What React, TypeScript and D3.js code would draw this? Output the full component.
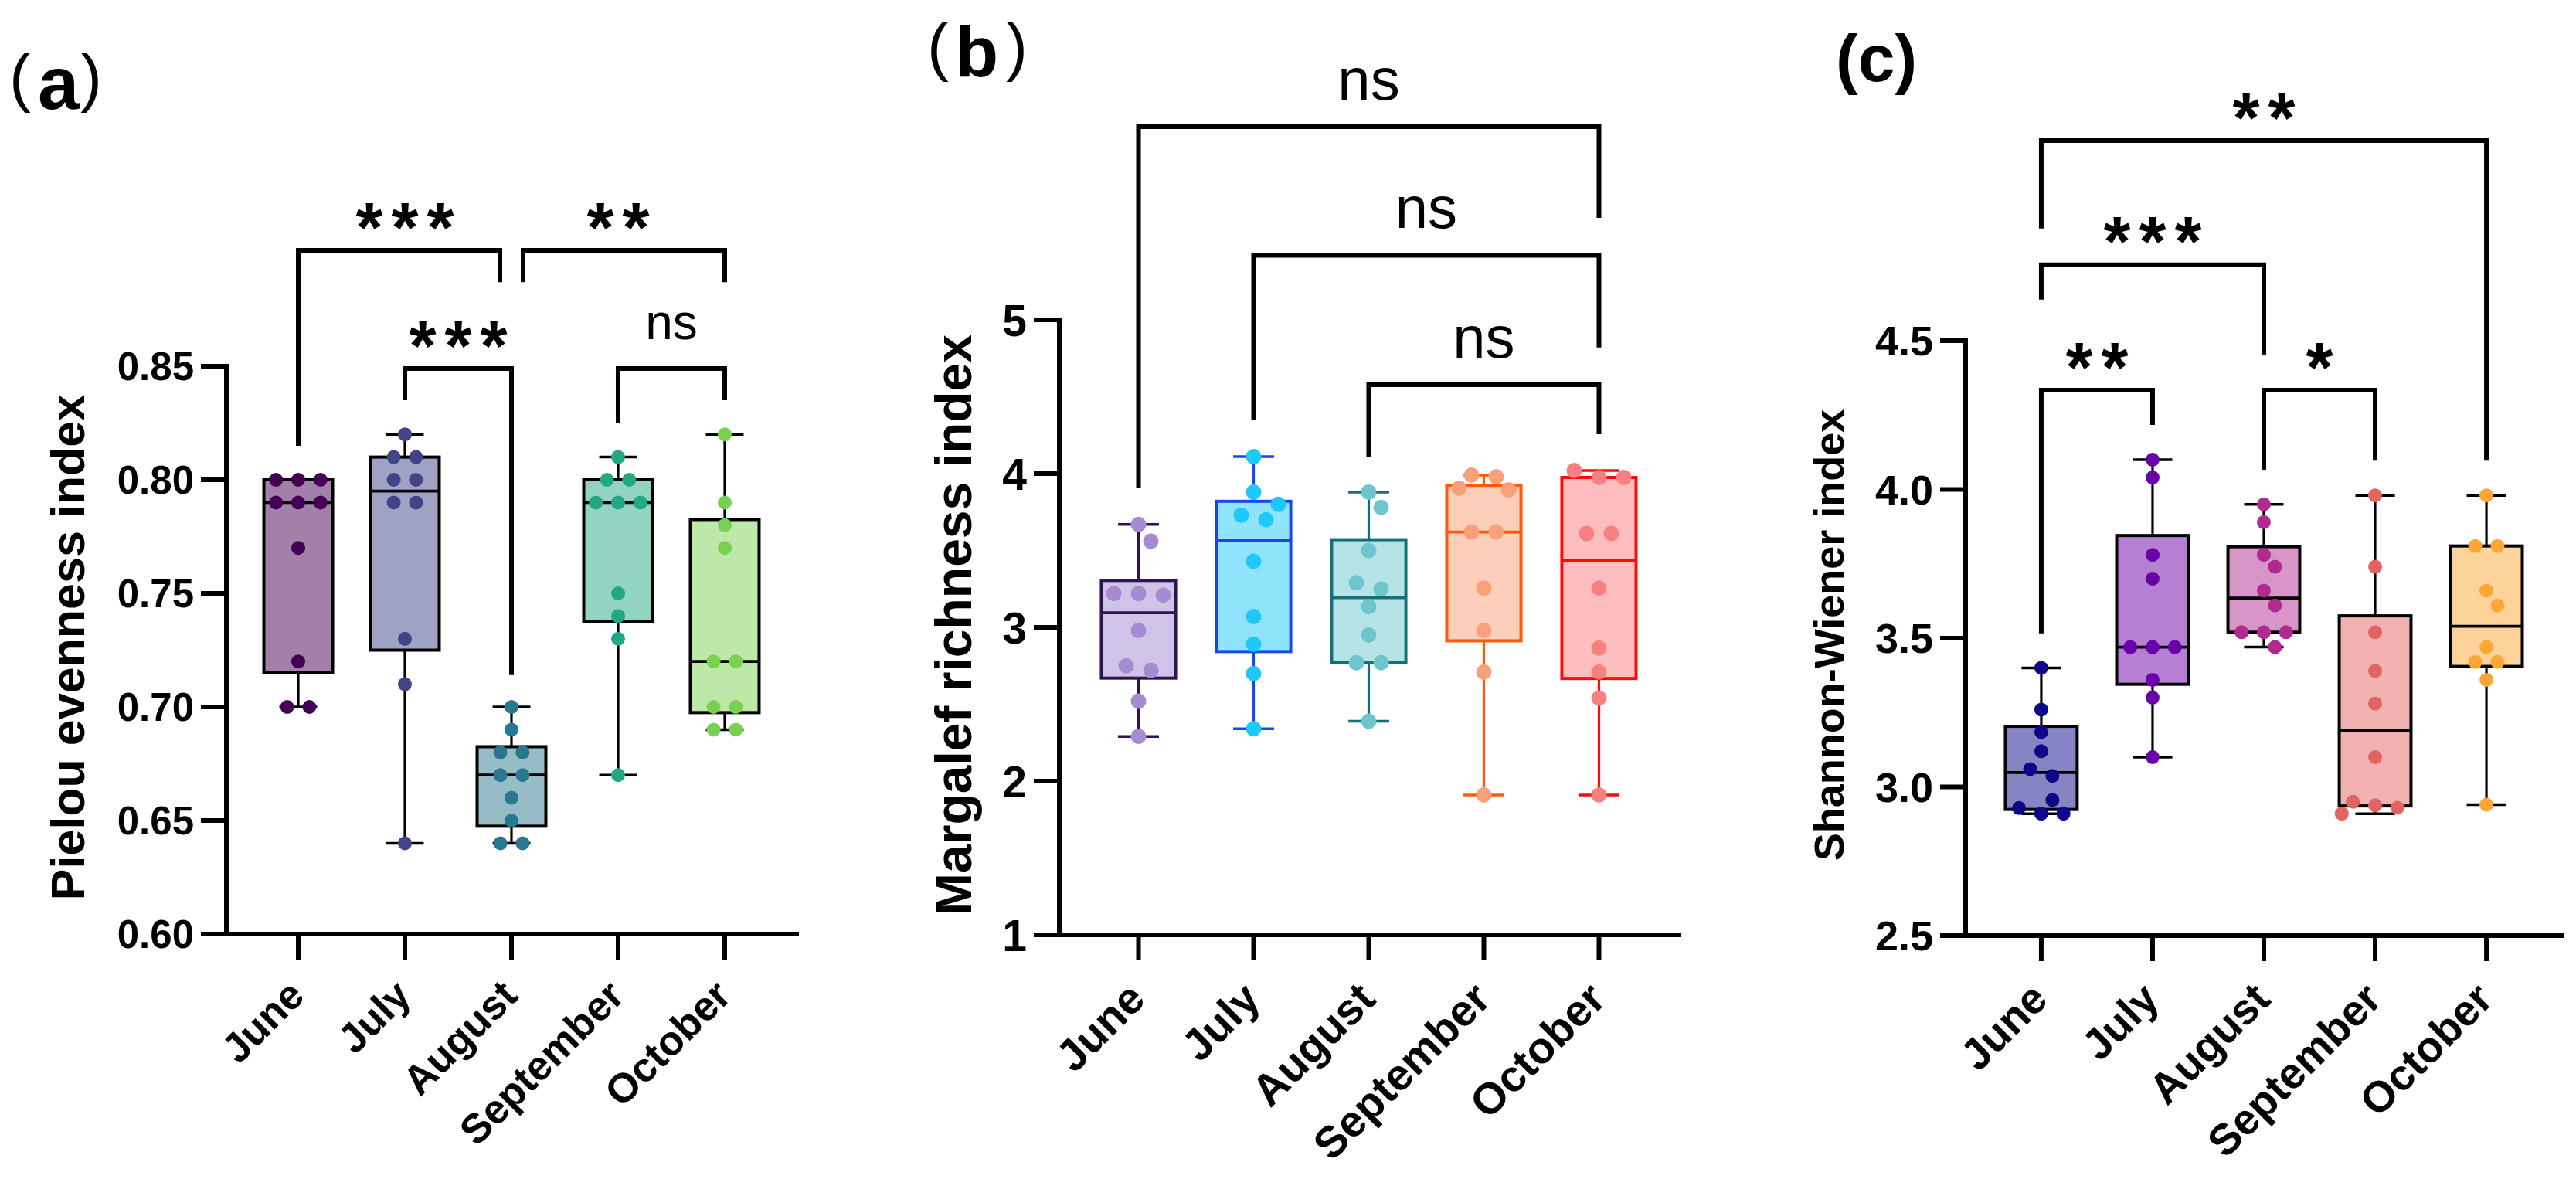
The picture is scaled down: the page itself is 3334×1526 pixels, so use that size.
import React from "react";
import * as d3 from "d3";

const MONTHS = ["June", "July", "August", "September", "October"];

// (a) Pielou evenness index
const pielouJune = [0.8, 0.8, 0.8, 0.79, 0.79, 0.79, 0.77, 0.72, 0.7, 0.7];
const pielouJuly = [0.82, 0.81, 0.81, 0.8, 0.8, 0.79, 0.79, 0.73, 0.71, 0.64];
const pielouAugust = [0.7, 0.69, 0.68, 0.68, 0.67, 0.67, 0.66, 0.65, 0.64, 0.64];
const pielouSeptember = [0.81, 0.8, 0.8, 0.79, 0.79, 0.79, 0.75, 0.74, 0.73, 0.67];
const pielouOctober = [0.82, 0.79, 0.78, 0.77, 0.72, 0.72, 0.7, 0.7, 0.69, 0.69];
const pielouTicks = [0.6, 0.65, 0.7, 0.75, 0.8, 0.85];

// (b) Margalef richness index
const margalefJune = [3.67, 3.56, 3.22, 3.21, 3.22, 2.98, 2.75, 2.72, 2.52, 2.29];
const margalefJuly = [4.11, 3.88, 3.8, 3.73, 3.7, 3.43, 3.07, 2.89, 2.7, 2.34];
const margalefAugust = [3.88, 3.78, 3.5, 3.29, 3.25, 3.135, 2.95, 2.77, 2.77, 2.39];
const margalefSeptember = [3.99, 3.98, 3.905, 3.895, 3.62, 3.62, 3.255, 2.98, 2.71, 1.91];
const margalefOctober = [4.02, 3.975, 3.975, 3.61, 3.61, 3.255, 2.865, 2.71, 2.54, 1.91];
const margalefTicks = [1, 2, 3, 4, 5];

// (c) Shannon-Wiener index
const shannonJune = [3.4, 3.26, 3.185, 3.12, 3.06, 3.037, 2.956, 2.929, 2.91, 2.91];
const shannonJuly = [4.1, 4.04, 3.78, 3.7, 3.47, 3.47, 3.47, 3.36, 3.3, 3.1];
const shannonAugust = [3.95, 3.89, 3.78, 3.74, 3.66, 3.61, 3.52, 3.52, 3.52, 3.47];
const shannonSeptember = [3.98, 3.74, 3.52, 3.39, 3.28, 3.1, 2.95, 2.938, 2.93, 2.91];
const shannonOctober = [3.98, 3.81, 3.81, 3.66, 3.61, 3.47, 3.42, 3.42, 3.36, 2.94];
const shannonTicks = [2.5, 3.0, 3.5, 4.0, 4.5];

// colours
const viridisDots = ["#440154", "#414487", "#2a788e", "#22a884", "#7ad151"];
const plasmaDots = ["#0d0887", "#6a00a8", "#b12a90", "#e16462", "#fca636"];
const margalefDots = ["#a68ad2", "#1ec8f8", "#6ec6cc", "#f8a07a", "#f88080"];
const margalefFills = ["#cfc3e7", "#8fe3fb", "#b6e3e5", "#fdcfbb", "#fdbcbd"];
const margalefStrokes = ["#2b1553", "#1848e8", "#12707a", "#ff5a0a", "#ff0a0a"];

// significance brackets (y levels in data units)
const sigA = [
  { from: 0, to: 2, y: 0.901, yl: 0.815, yr: 0.887, label: "***", dl: 0, dr: -15 },
  { from: 2, to: 4, y: 0.901, yl: 0.887, yr: 0.887, label: "**", dl: 15, dr: 0 },
  { from: 1, to: 2, y: 0.849, yl: 0.835, yr: 0.714, label: "***", dl: 0, dr: 0 },
  { from: 3, to: 4, y: 0.849, yl: 0.8248, yr: 0.835, label: "ns", dl: 0, dr: 0 },
];
const sigB = [
  { from: 0, to: 4, y: 6.256, yl: 3.905, yr: 5.663, label: "ns", dl: 0, dr: 0 },
  { from: 1, to: 4, y: 5.42, yl: 4.347, yr: 4.82, label: "ns", dl: 0, dr: 0 },
  { from: 2, to: 4, y: 4.578, yl: 4.11, yr: 4.256, label: "ns", dl: 0, dr: 0 },
];
const sigC = [
  { from: 0, to: 4, y: 5.173, yl: 4.877, yr: 4.097, label: "**", dl: 0, dr: 0 },
  { from: 0, to: 2, y: 4.755, yl: 4.638, yr: 4.451, label: "***", dl: 0, dr: 0 },
  { from: 0, to: 1, y: 4.334, yl: 3.516, yr: 4.217, label: "**", dl: 0, dr: 0 },
  { from: 2, to: 3, y: 4.334, yl: 4.066, yr: 4.097, label: "*", dl: 0, dr: 0 },
];

const FONT = "'Liberation Sans', Arial, Helvetica, sans-serif";

function blend(c: string, a: number) {
  const col = d3.rgb(c);
  return d3.rgb(col.r * a + 255 * (1 - a), col.g * a + 255 * (1 - a), col.b * a + 255 * (1 - a)).formatHex();
}

function quart(sorted: number[], p: number) {
  const n = sorted.length;
  const pos = (n + 1) * p;
  if (pos <= 1) return sorted[0];
  if (pos >= n) return sorted[n - 1];
  const lo = Math.floor(pos);
  return sorted[lo - 1] + (pos - lo) * (sorted[lo] - sorted[lo - 1]);
}

// simple beeswarm: rows of near-equal values are spread symmetrically,
// then nudged sideways until no dot overlaps an already placed one.
function swarm(vals: number[], y: (v: number) => number, unit: number, thr: number, tol: number) {
  const pts = vals.map((v) => ({ v, py: y(v), dx: 0 })).sort((a, b) => a.py - b.py);
  const rows: (typeof pts)[] = [];
  let i = 0;
  while (i < pts.length) {
    let j = i + 1;
    while (j < pts.length && Math.abs(pts[j].py - pts[i].py) < tol) j++;
    rows.push(pts.slice(i, j));
    i = j;
  }
  const order = rows.map((r, k) => ({ r, k })).sort((a, b) => b.r.length - a.r.length || a.k - b.k);
  const placed: { py: number; dx: number }[] = [];
  const shifts = [0, 0.5, -0.5, 1, -1, 1.5, -1.5, 2, -2, 2.5, -2.5, 3, -3];
  for (const { r } of order) {
    const k = r.length;
    let chosen: number[] | null = null;
    outer: for (const s of shifts) {
      for (const sp of k > 1 ? [1, 2] : [1]) {
        const cand = r.map((_, m) => (m - (k - 1) / 2) * sp + s);
        const ok = r.every((p, m) =>
          placed.every((q) => Math.hypot((cand[m] - q.dx) * unit, p.py - q.py) >= thr)
        );
        if (ok) {
          chosen = cand;
          break outer;
        }
      }
    }
    if (!chosen) chosen = r.map((_, m) => m - (k - 1) / 2);
    r.forEach((p, m) => {
      p.dx = chosen![m] * unit;
      placed.push({ py: p.py, dx: chosen![m] });
    });
  }
  return pts;
}

type PanelCfg = {
  data: number[][];
  domain: [number, number];
  ticks: number[];
  fmt: (d: number) => string;
  axisX: number;
  xEnd: number;
  yTop: number;
  yBottom: number;
  pad: number;
  tickFont: number;
  xFont: number;
  title: string;
  titleFont: number;
  titleX: number;
  titleY: number;
  dots: string[];
  fills: string[];
  strokes: string[];
  whisk: string[];
  r: number;
  sig: typeof sigA;
  nsFont: number;
};

const panels: PanelCfg[] = [
  {
    data: [pielouJune, pielouJuly, pielouAugust, pielouSeptember, pielouOctober],
    domain: [0.6, 0.85],
    ticks: pielouTicks,
    fmt: (d) => d.toFixed(2),
    axisX: 293,
    xEnd: 1031,
    yTop: 474,
    yBottom: 1209,
    pad: 0.674,
    tickFont: 51,
    xFont: 53,
    title: "Pielou evenness index",
    titleFont: 61,
    titleX: 109,
    titleY: 838,
    dots: viridisDots,
    fills: viridisDots.map((c) => blend(c, 0.5)),
    strokes: viridisDots.map(() => "#000000"),
    whisk: viridisDots.map(() => "#000000"),
    r: 9,
    sig: sigA,
    nsFont: 64,
  },
  {
    data: [margalefJune, margalefJuly, margalefAugust, margalefSeptember, margalefOctober],
    domain: [1, 5],
    ticks: margalefTicks,
    fmt: (d) => String(d),
    axisX: 1371,
    xEnd: 2172,
    yTop: 414,
    yBottom: 1210,
    pad: 0.688,
    tickFont: 57,
    xFont: 57,
    title: "Margalef richness index",
    titleFont: 66,
    titleX: 1257,
    titleY: 809,
    dots: margalefDots,
    fills: margalefFills,
    strokes: margalefStrokes,
    whisk: margalefStrokes,
    r: 10,
    sig: sigB,
    nsFont: 76,
  },
  {
    data: [shannonJune, shannonJuly, shannonAugust, shannonSeptember, shannonOctober],
    domain: [2.5, 4.5],
    ticks: shannonTicks,
    fmt: (d) => d.toFixed(1),
    axisX: 2544,
    xEnd: 3316,
    yTop: 441,
    yBottom: 1211,
    pad: 0.68,
    tickFont: 54,
    xFont: 56,
    title: "Shannon-Wiener index",
    titleFont: 54,
    titleX: 2386,
    titleY: 822,
    dots: plasmaDots,
    fills: plasmaDots.map((c) => blend(c, 0.5)),
    strokes: plasmaDots.map(() => "#000000"),
    whisk: plasmaDots.map(() => "#000000"),
    r: 9,
    sig: sigC,
    nsFont: 64,
  },
];

function Panel({ p }: { p: PanelCfg }) {
  const x = d3.scalePoint<string>().domain(MONTHS).range([p.axisX, p.xEnd]).padding(p.pad);
  const y = d3.scaleLinear().domain(p.domain).range([p.yBottom, p.yTop]);
  const step = x.step();
  const bw = step * 0.645;
  const cap = bw * 0.55;
  const diam = p.r * 2;
  const tickLen = 30;
  const AX = 6;

  return (
    <g>
      {/* boxes */}
      {p.data.map((vals, gi) => {
        const cx = x(MONTHS[gi]) as number;
        const s = [...vals].sort((a, b) => a - b);
        const q1 = quart(s, 0.25);
        const med = quart(s, 0.5);
        const q3 = quart(s, 0.75);
        const mn = s[0];
        const mx = s[s.length - 1];
        const pts = swarm(vals, y, diam * 1.6, diam * 1.1, diam * 0.5);
        return (
          <g key={gi}>
            <line x1={cx} x2={cx} y1={y(mx)} y2={y(mn)} stroke={p.whisk[gi]} strokeWidth={3.2} />
            <line x1={cx - cap / 2} x2={cx + cap / 2} y1={y(mx)} y2={y(mx)} stroke={p.whisk[gi]} strokeWidth={3.5} />
            <line x1={cx - cap / 2} x2={cx + cap / 2} y1={y(mn)} y2={y(mn)} stroke={p.whisk[gi]} strokeWidth={3.5} />
            <rect
              x={cx - bw / 2}
              y={y(q3)}
              width={bw}
              height={y(q1) - y(q3)}
              fill={p.fills[gi]}
              stroke={p.strokes[gi]}
              strokeWidth={4}
            />
            <line x1={cx - bw / 2} x2={cx + bw / 2} y1={y(med)} y2={y(med)} stroke={p.strokes[gi]} strokeWidth={3.8} />
            {pts.map((pt, k) => (
              <circle key={k} cx={cx + pt.dx} cy={pt.py} r={p.r} fill={p.dots[gi]} />
            ))}
          </g>
        );
      })}

      {/* axes */}
      <line x1={p.axisX} x2={p.axisX} y1={p.yTop} y2={p.yBottom} stroke="#000" strokeWidth={AX} strokeLinecap="square" />
      <line x1={p.axisX} x2={p.xEnd} y1={p.yBottom} y2={p.yBottom} stroke="#000" strokeWidth={AX} strokeLinecap="square" />
      {p.ticks.map((t, i) => (
        <g key={i}>
          <line x1={p.axisX - tickLen - 3} x2={p.axisX} y1={y(t)} y2={y(t)} stroke="#000" strokeWidth={AX} />
          <text
            x={p.axisX - tickLen - 12}
            y={y(t) + p.tickFont * 0.36}
            textAnchor="end"
            fontFamily={FONT}
            fontWeight="bold"
            fontSize={p.tickFont}
          >
            {p.fmt(t)}
          </text>
        </g>
      ))}
      {MONTHS.map((m) => {
        const cx = x(m) as number;
        return (
          <g key={m}>
            <line x1={cx} x2={cx} y1={p.yBottom} y2={p.yBottom + 33} stroke="#000" strokeWidth={AX} />
            <text
              transform={`translate(${cx + p.xFont * 0.2},${p.yBottom + 32 + p.xFont * 0.95}) rotate(-45)`}
              textAnchor="end"
              fontFamily={FONT}
              fontWeight="bold"
              fontSize={p.xFont}
            >
              {m}
            </text>
          </g>
        );
      })}
      <text
        transform={`translate(${p.titleX},${p.titleY}) rotate(-90)`}
        textAnchor="middle"
        fontFamily={FONT}
        fontWeight="bold"
        fontSize={p.titleFont}
      >
        {p.title}
      </text>

      {/* significance */}
      {p.sig.map((s, i) => {
        const x1 = (x(MONTHS[s.from]) as number) + s.dl;
        const x2 = (x(MONTHS[s.to]) as number) + s.dr;
        const yb = y(s.y);
        const cxm = ((x(MONTHS[s.from]) as number) + (x(MONTHS[s.to]) as number)) / 2;
        const path = `M${x1},${y(s.yl)}V${yb}H${x2}V${y(s.yr)}`;
        let label: React.ReactNode;
        if (s.label === "ns") {
          label = (
            <text
              x={cxm}
              y={yb - 55 + p.nsFont * 0.26}
              textAnchor="middle"
              fontFamily={FONT}
              fontSize={p.nsFont}
            >
              ns
            </text>
          );
        } else {
          const n = s.label.length;
          const pitch = 46;
          label = (
            <g>
              {s.label.split("").map((ch, k) => (
                <text
                  key={k}
                  x={cxm + (k - (n - 1) / 2) * pitch}
                  y={yb - 51 + 90 * 0.585}
                  textAnchor="middle"
                  fontFamily={FONT}
                  fontWeight="bold"
                  fontSize={90}
                >
                  {ch}
                </text>
              ))}
            </g>
          );
        }
        return (
          <g key={i}>
            <path d={path} fill="none" stroke="#000" strokeWidth={6} strokeLinejoin="miter" />
            {label}
          </g>
        );
      })}
    </g>
  );
}

export default function App() {
  return (
    <svg
      width={3334}
      height={1526}
      style={{ position: "absolute", left: 0, top: 0, background: "#ffffff" }}
      xmlns="http://www.w3.org/2000/svg"
    >
      <rect x={0} y={0} width={3334} height={1526} fill="#ffffff" />
      {/* panel letters */}
      <g fontFamily={FONT}>
        <text x={12} y={129} fontSize={84}>(</text>
        <text x={49} y={141} fontSize={96} fontWeight="bold">a</text>
        <text x={104} y={129} fontSize={84}>)</text>

        <text x={1200} y={89} fontSize={84}>(</text>
        <text x={1236} y={99} fontSize={92} fontWeight="bold">b</text>
        <text x={1302} y={89} fontSize={84}>)</text>

        <text x={2376} y={105} fontSize={86} fontWeight="bold">(c)</text>
      </g>
      {panels.map((p, i) => (
        <Panel key={i} p={p} />
      ))}
    </svg>
  );
}
